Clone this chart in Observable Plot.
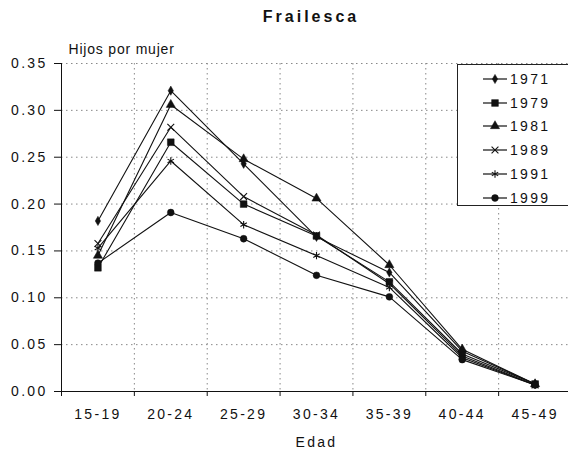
<!DOCTYPE html>
<html><head><meta charset="utf-8">
<script src="https://cdn.jsdelivr.net/npm/d3@7"></script>
<script src="https://cdn.jsdelivr.net/npm/@observablehq/plot@0.6"></script>
<style>
body{margin:0;background:#fff;overflow:hidden;}
#wrap{position:relative;width:568px;height:454px;overflow:hidden;font-family:"Liberation Sans",Arial,sans-serif;color:#111;}
#title{height:30px;line-height:33px;font-weight:bold;font-size:16px;letter-spacing:3px;text-align:center;padding-left:54px;box-sizing:border-box;width:568px;}
#legend{position:absolute;left:457px;top:64px;width:130px;height:142px;border:1px solid #222;box-sizing:border-box;background:#fff;padding-top:2px;}
.row{height:23.8px;display:flex;align-items:center;font-size:14px;letter-spacing:2.3px;}
.row svg{margin-left:25px;margin-right:1px;}
</style></head><body>
<div id="wrap"><div id="title"></div><div id="chart"></div><div id="legend"></div></div>
<script>
const title = "Frailesca";
const yLabel = "Hijos por mujer";
const xLabel = "Edad";
const ages = ["15-19","20-24","25-29","30-34","35-39","40-44","45-49"];
const years = ["1971","1979","1981","1989","1991","1999"];
const v1971 = [0.182, 0.321, 0.243, 0.165, 0.127, 0.043, 0.008];
const v1979 = [0.132, 0.266, 0.200, 0.166, 0.117, 0.040, 0.008];
const v1981 = [0.145, 0.306, 0.248, 0.206, 0.135, 0.045, 0.008];
const v1989 = [0.158, 0.282, 0.208, 0.167, 0.115, 0.038, 0.007];
const v1991 = [0.153, 0.246, 0.178, 0.145, 0.111, 0.036, 0.007];
const v1999 = [0.137, 0.191, 0.163, 0.124, 0.101, 0.034, 0.007];
const yTicks = [0, 0.05, 0.10, 0.15, 0.20, 0.25, 0.30, 0.35];
const symbols = ["diamond", "square", "triangle", "times", "asterisk", "circle"];
const filled = [true, true, true, false, false, true];
const radii = [2.8, 3.8, 3.4, 3.2, 3.5, 3.4];

const series = [v1971, v1979, v1981, v1989, v1991, v1999];
const data = years.flatMap((yr, s) => series[s].map((v, i) => ({year: yr, s, i, age: ages[i], v})));

document.getElementById("title").textContent = title;

const dotMarks = years.map((yr, s) => Plot.dot(data.filter(d => d.s === s), {
  x: d => d.i + 0.5, y: "v", symbol: () => symbols[s], r: radii[s],
  fill: filled[s] ? "#111" : "none", stroke: "#111", strokeWidth: filled[s] ? 0.5 : 1.1
}));

const chart = Plot.plot({
  width: 568, height: 424,
  marginLeft: 61, marginRight: -3, marginTop: 33, marginBottom: 63,
  style: {fontFamily: "Liberation Sans, Arial, sans-serif", fontSize: "14px", letterSpacing: "2.3px", background: "white", color: "#111"},
  x: {domain: [0, ages.length], axis: null},
  y: {domain: [0, 0.35], axis: null},
  symbol: {type: "identity"},
  marks: [
    Plot.ruleY(yTicks.slice(1), {stroke: "#888", strokeDasharray: "1.5,3.5"}),
    Plot.ruleX(d3.range(1, ages.length + 1), {stroke: "#888", strokeDasharray: "1.5,3.5"}),
    Plot.ruleX([0], {stroke: "#111"}),
    Plot.ruleY([0], {stroke: "#111"}),
    Plot.axisY({ticks: yTicks, tickFormat: d3.format(".2f"), tickSize: 7, tickPadding: 7, label: null}),
    Plot.axisX({ticks: d3.range(0, ages.length + 1), tickSize: 5, tickFormat: () => "", label: null}),
    Plot.axisX({ticks: ages.map((d, i) => i + 0.5), tickSize: 0, tickPadding: 18, tickFormat: d => ages[Math.floor(d)], label: null}),
    Plot.line(data, {x: d => d.i + 0.5, y: "v", z: "year", stroke: "#111", strokeWidth: 1.1}),
    ...dotMarks,
    Plot.text([yLabel], {frameAnchor: "top-left", dx: 7, dy: -10, lineAnchor: "bottom", textAnchor: "start"}),
    Plot.text([xLabel], {frameAnchor: "bottom", dy: 46, lineAnchor: "top"})
  ]
});
d3.select(chart).selectAll("text").filter(function() { return this.textContent === yLabel; }).style("letter-spacing", "0.8px");
document.getElementById("chart").appendChild(chart);

const legend = d3.select("#legend");
const symMap = {diamond: d3.symbolDiamond, square: d3.symbolSquare, triangle: d3.symbolTriangle, times: d3.symbolTimes, asterisk: d3.symbolAsterisk, circle: d3.symbolCircle};
years.forEach((yr, s) => {
  const row = legend.append("div").attr("class", "row");
  const svg = row.append("svg").attr("width", 26).attr("height", 12);
  svg.append("line").attr("x1", 0).attr("x2", 24).attr("y1", 6).attr("y2", 6).attr("stroke", "#111").attr("stroke-width", 1.2);
  svg.append("path").attr("transform", "translate(12,6)")
    .attr("d", d3.symbol(symMap[symbols[s]], Math.PI * radii[s] * radii[s])())
    .attr("fill", filled[s] ? "#111" : "none").attr("stroke", "#111").attr("stroke-width", filled[s] ? 0.5 : 1.1);
  row.append("span").text(yr);
});
</script>
</body></html>
